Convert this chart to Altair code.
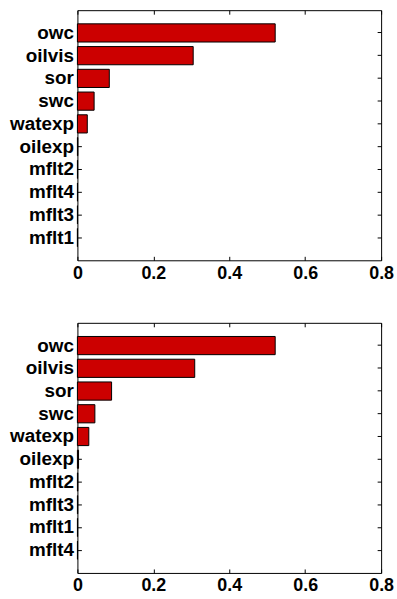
import altair as alt
import pandas as pd

top_vars = ["owc", "oilvis", "sor", "swc", "watexp", "oilexp", "mflt2", "mflt4", "mflt3", "mflt1"]
top_vals = [0.521, 0.305, 0.084, 0.044, 0.026, 0.001, 0.0005, 0.0003, 0.0002, 0.0001]

bot_vars = ["owc", "oilvis", "sor", "swc", "watexp", "oilexp", "mflt2", "mflt3", "mflt1", "mflt4"]
bot_vals = [0.521, 0.309, 0.090, 0.046, 0.030, 0.003, 0.001, 0.0008, 0.0005, 0.0003]

x_ticks = [0, 0.2, 0.4, 0.6, 0.8]

FONT = "Liberation Sans"


def panel(names, vals):
    df = pd.DataFrame({"var": names, "val": vals})
    yscale = alt.Scale(domain=names, paddingInner=0.2, paddingOuter=0.6)
    xscale = alt.Scale(domain=[0, 0.8], nice=False, zero=True)
    common = dict(domain=False, grid=False, ticks=True, tickSize=4, offset=-4,
                  tickColor="black", tickWidth=1, title=None)
    left = alt.Axis(orient="left", labels=True, labelFont=FONT, labelFontSize=19,
                    labelFontWeight="bold", labelColor="black", labelPadding=4, **common)
    right = alt.Axis(orient="right", labels=False, **common)
    bottom = alt.Axis(orient="bottom", values=x_ticks, labels=True, labelFont=FONT,
                      labelFontSize=18, labelFontWeight="bold", labelColor="black",
                      labelPadding=4, labelFlush=False, labelOverlap=False, labelBound=False,
                      labelExpr="datum.value == 0 ? '0' : format(datum.value, '.1f')", **common)
    top = alt.Axis(orient="top", values=x_ticks, labels=False, **common)

    bars = alt.Chart(df).mark_bar(color="#cc0000", stroke="black", strokeWidth=1).encode(
        x=alt.X("val:Q", scale=xscale, axis=bottom),
        y=alt.Y("var:N", scale=yscale, axis=left),
    )
    ghost = alt.Chart(df).mark_bar(opacity=0).encode(
        x=alt.X("val:Q", scale=xscale, axis=top),
        y=alt.Y("var:N", scale=yscale, axis=right),
    )
    return alt.layer(bars, ghost).resolve_axis(x="independent", y="independent").properties(
        width=306, height=252
    )


chart = alt.vconcat(panel(top_vars, top_vals), panel(bot_vars, bot_vals), spacing=39).properties(
    padding={"left": 9, "top": 7, "right": 2, "bottom": 2},
    background="white",
).configure_view(stroke="black", strokeWidth=1)

chart.save("out.html", embed_options={"renderer": "svg", "actions": False})
